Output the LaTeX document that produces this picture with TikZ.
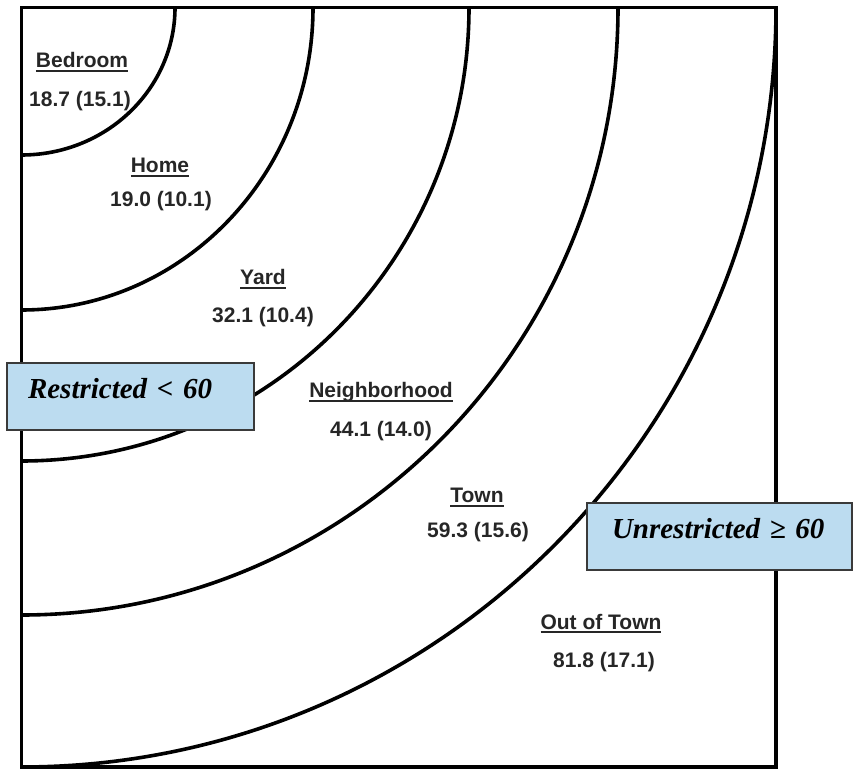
\documentclass[tikz,border=0pt]{standalone}
\usepackage{fontspec}
\setmainfont{Liberation Sans}
\newfontfamily\tnr{Liberation Serif}
\definecolor{boxblue}{HTML}{BCDCF0}
\definecolor{boxedge}{HTML}{3A3A3A}
\definecolor{labelgray}{HTML}{262626}
\newcommand\myul[1]{\setbox0\hbox{#1}\rlap{\rule[-3.8pt]{\wd0}{1.9pt}}\box0}
\tikzset{
  frame/.style={line width=3.8pt, line join=miter},
  ring/.style={line width=3.6pt},
  zonetitle/.style={font=\bfseries\fontsize{21}{24}\selectfont, text=labelgray, anchor=base, inner sep=0pt},
  zoneval/.style={font=\bfseries\fontsize{21}{24}\selectfont, text=labelgray, anchor=base, inner sep=0pt},
  callout/.style={draw=boxedge, line width=1.2pt, fill=boxblue, minimum height=67pt, inner ysep=0pt,
    align=left, text height=19pt, text depth=14pt, font=\tnr\bfseries\itshape\fontsize{29}{33}\selectfont}
}
\begin{document}
\begin{tikzpicture}[x=1pt,y=1pt]
\useasboundingbox (0,0) rectangle (854,769);
% corner of the frame (centre of the rings)
\coordinate (C) at (21.5,761.5);
% rings
\draw[ring] (175,761.5) arc[start angle=0, end angle=-90, x radius=153.5pt, y radius=147.5pt];
\draw[ring] (313,761.5) arc[start angle=0, end angle=-90, x radius=291.5pt, y radius=302.5pt];
\draw[ring] (469,761.5) arc[start angle=0, end angle=-90, x radius=447.5pt, y radius=453.5pt];
\draw[ring] (618,761.5) arc[start angle=0, end angle=-90, x radius=596.5pt, y radius=607.5pt];
\draw[ring] (776,761.5) arc[start angle=0, end angle=-90, x radius=754.5pt, y radius=759.5pt];
% frame
\draw[frame] (C) rectangle (776,2);
% zone labels
\node[zonetitle] (bedT) at (82,701) {\myul{Bedroom}};
\node[zoneval] (bedV) at (80,662) {18.7 (15.1)};
\node[zonetitle] (homeT) at (160,596) {\myul{Home}};
\node[zoneval] (homeV) at (161,562) {19.0 (10.1)};
\node[zonetitle] (yardT) at (263,484) {\myul{Yard}};
\node[zoneval] (yardV) at (263,446) {32.1 (10.4)};
\node[zonetitle] (nbhT) at (381,371) {\myul{Neighborhood}};
\node[zoneval] (nbhV) at (381,332) {44.1 (14.0)};
\node[zonetitle] (townT) at (477,266) {\myul{Town}};
\node[zoneval] (townV) at (478,231) {59.3 (15.6)};
\node[zonetitle] (ootT) at (601,140) {\myul{Out of Town}};
\node[zoneval] (ootV) at (604,102) {81.8 (17.1)};
% callouts
\node[callout, inner xsep=21pt, text width=205pt] (restr) at (130.5,372.5) {Restricted < 60};
\node[callout, inner xsep=25pt, text width=215pt] (unrestr) at (719.5,232.5) {Unrestricted ≥ 60};
\end{tikzpicture}
\end{document}
